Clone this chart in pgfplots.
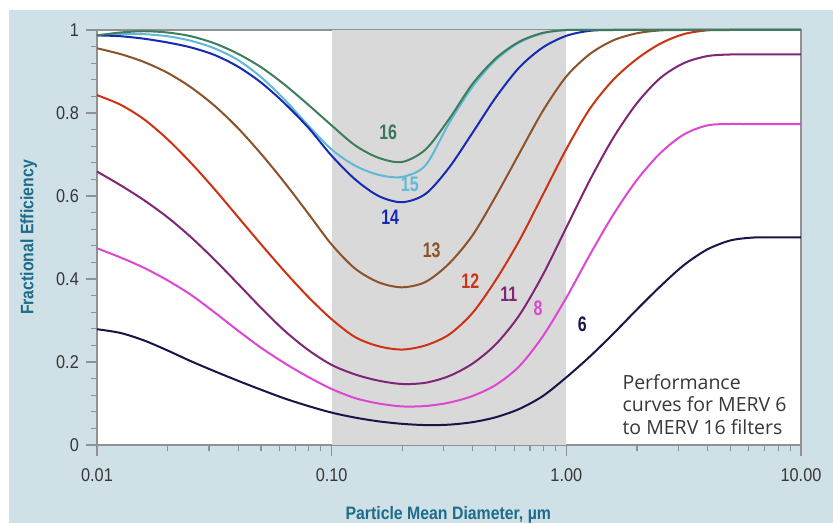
\documentclass[border=0pt]{standalone}
\usepackage{pgfplots}
\usepackage{pgfplotstable}
\pgfplotsset{compat=1.18}
\usepackage{fontspec}
\setmainfont{Liberation Sans}
\newfontfamily\condfont{Liberation Sans}[FakeStretch=0.88]
\newfontfamily\labfont{Liberation Sans}[FakeStretch=0.76]
\newfontfamily\annofont{Open Sans}
\definecolor{bgblue}{RGB}{207,224,230}
\definecolor{bandgrey}{RGB}{217,217,217}
\definecolor{axisgrey}{RGB}{145,145,145}
\definecolor{ticktext}{RGB}{55,55,55}
\definecolor{titleteal}{RGB}{28,108,138}
\definecolor{cS}{RGB}{62,125,92}
\definecolor{cF}{RGB}{95,185,215}
\definecolor{cE}{RGB}{22,42,180}
\definecolor{cT}{RGB}{140,82,42}
\definecolor{cW}{RGB}{205,50,20}
\definecolor{cL}{RGB}{128,38,118}
\definecolor{cG}{RGB}{220,72,210}
\definecolor{cX}{RGB}{22,22,72}

\pgfplotstableread{
d        c16    c15    c14    c13    c12    c11    c8     c6
0.01     0.987  0.987  0.987  0.956  0.843  0.659  0.474  0.279
0.012589 0.994  0.990  0.985  0.942  0.820  0.626  0.452  0.270
0.015849 0.997  0.990  0.979  0.923  0.785  0.590  0.427  0.252
0.019953 0.994  0.985  0.970  0.897  0.737  0.549  0.397  0.228
0.025119 0.985  0.974  0.958  0.862  0.680  0.501  0.362  0.202
0.031623 0.968  0.956  0.940  0.818  0.617  0.447  0.320  0.178
0.039811 0.943  0.928  0.912  0.764  0.550  0.389  0.276  0.155
0.050119 0.910  0.886  0.873  0.701  0.483  0.330  0.234  0.133
0.063096 0.868  0.832  0.823  0.632  0.418  0.275  0.197  0.112
0.079433 0.820  0.770  0.765  0.558  0.357  0.229  0.164  0.094
0.1      0.770  0.712  0.697  0.483  0.303  0.193  0.135  0.078
0.12589  0.722  0.673  0.640  0.425  0.260  0.170  0.113  0.066
0.15849  0.692  0.651  0.600  0.392  0.238  0.155  0.100  0.057
0.19953  0.682  0.646  0.585  0.380  0.230  0.147  0.093  0.051
0.25119  0.712  0.674  0.605  0.393  0.240  0.150  0.094  0.048
0.31623  0.785  0.775  0.668  0.437  0.266  0.166  0.102  0.049
0.39811  0.870  0.863  0.752  0.505  0.318  0.196  0.118  0.055
0.50119  0.932  0.928  0.838  0.600  0.398  0.243  0.145  0.067
0.63096  0.972  0.970  0.910  0.703  0.493  0.313  0.190  0.087
0.79433  0.993  0.992  0.958  0.805  0.603  0.410  0.262  0.118
1        1.000  1.000  0.986  0.888  0.713  0.524  0.355  0.163
1.2589   1.000  1.000  0.998  0.942  0.810  0.638  0.458  0.213
1.5849   1.000  1.000  1.000  0.975  0.880  0.740  0.555  0.268
1.9953   1.000  1.000  1.000  0.992  0.930  0.823  0.638  0.326
2.5119   1.000  1.000  1.000  0.999  0.967  0.884  0.703  0.382
3.1623   1.000  1.000  1.000  1.000  0.990  0.920  0.748  0.433
3.9811   1.000  1.000  1.000  1.000  0.999  0.937  0.770  0.471
5.0119   1.000  1.000  1.000  1.000  1.000  0.941  0.7735 0.493
6.3096   1.000  1.000  1.000  1.000  1.000  0.941  0.773  0.500
7.9433   1.000  1.000  1.000  1.000  1.000  0.941  0.773  0.500
10       1.000  1.000  1.000  1.000  1.000  0.941  0.773  0.500
}\merv

\begin{document}
\begin{tikzpicture}
\useasboundingbox (0,0) rectangle (833bp,523bp);
\fill[white] (0,0) rectangle (833bp,523bp);
\fill[bgblue] (9bp,0) rectangle (833bp,513bp);
\begin{axis}[
  at={(97bp,78bp)}, anchor=south west,
  scale only axis, width=704bp, height=415bp,
  xmode=log, log basis x=10,
  xmin=0.01, xmax=10, ymin=0, ymax=1,
  clip=false,
  axis background/.style={fill=white},
  xtick={0.01,0.1,1,10}, xticklabels={0.01,0.10,1.00,10.00},
  minor xtick={0.02,0.03,0.04,0.05,0.06,0.07,0.08,0.09,0.2,0.3,0.4,0.5,0.6,0.7,0.8,0.9,2,3,4,5,6,7,8,9},
  ytick={0,0.2,0.4,0.6,0.8,1}, yticklabels={0,0.2,0.4,0.6,0.8,1},
  minor ytick={0.04,0.08,0.12,0.16,0.24,0.28,0.32,0.36,0.44,0.48,0.52,0.56,0.64,0.68,0.72,0.76,0.84,0.88,0.92,0.96},
  tick pos=left, tick align=outside,
  major tick length=11bp, minor tick length=6.5bp,
  tick style={draw=axisgrey, line width=1.1bp},
  axis line style={draw=axisgrey, line width=1.1bp},
  /pgf/number format/assume math mode=true,
  yticklabel style={font=\condfont\fontsize{18.5bp}{20bp}\selectfont, text=ticktext, anchor=east, inner sep=0pt, xshift=-7bp},
  xticklabel style={font=\condfont\fontsize{18.5bp}{20bp}\selectfont, text=ticktext, anchor=base, inner sep=0pt, yshift=-25.7bp},
  xlabel={Particle Mean Diameter, µm},
  ylabel={Fractional Efficiency},
  xlabel style={font=\condfont\bfseries\fontsize{18bp}{20bp}\selectfont, text=titleteal, at={(axis description cs:0.499,-0.1807)}, anchor=base, inner sep=0pt},
  ylabel style={font=\condfont\bfseries\fontsize{18bp}{20bp}\selectfont, text=titleteal, at={(axis description cs:-0.0905,0.5)}, anchor=base, inner sep=0pt},
  every axis plot/.append style={line width=2bp, no markers},
]
\addplot[fill=bandgrey, draw=none, sharp plot] coordinates {(0.1,0) (1,0) (1,1) (0.1,1)} -- cycle;
\addplot[cX, smooth] table[x=d, y=c6] {\merv};
\addplot[cG, smooth] table[x=d, y=c8] {\merv};
\addplot[cL, smooth] table[x=d, y=c11] {\merv};
\addplot[cW, smooth] table[x=d, y=c12] {\merv};
\addplot[cT, smooth] table[x=d, y=c13] {\merv};
\addplot[cF, smooth] table[x=d, y=c15] {\merv};
\addplot[cE, smooth] table[x=d, y=c14] {\merv};
\addplot[cS, smooth] table[x=d, y=c16] {\merv};
\begin{scope}[every node/.style={font=\labfont\bfseries\fontsize{21bp}{22bp}\selectfont, inner sep=0pt}]
\node[text=cS!95!black] at (axis cs:0.1742,0.753) {16};
\node[text=cF] at (axis cs:0.2152,0.629) {15};
\node[text=cE] at (axis cs:0.1775,0.548) {14};
\node[text=cT] at (axis cs:0.2670,0.470) {13};
\node[text=cW] at (axis cs:0.3899,0.395) {12};
\node[text=cL] at (axis cs:0.5689,0.363) {11};
\node[text=cG] at (axis cs:0.7577,0.329) {8};
\node[text=cX] at (axis cs:1.170,0.292) {6};
\end{scope}
\begin{scope}[every node/.style={font=\annofont\fontsize{19.5bp}{22.4bp}\selectfont, text=ticktext, inner sep=0pt, anchor=base west}]
\node at (axis cs:1.733,0.1342) {Performance};
\node at (axis cs:1.733,0.0802) {curves for MERV 6};
\node at (axis cs:1.733,0.0265) {to MERV 16 filters};
\end{scope}
\end{axis}
\end{tikzpicture}
\end{document}
